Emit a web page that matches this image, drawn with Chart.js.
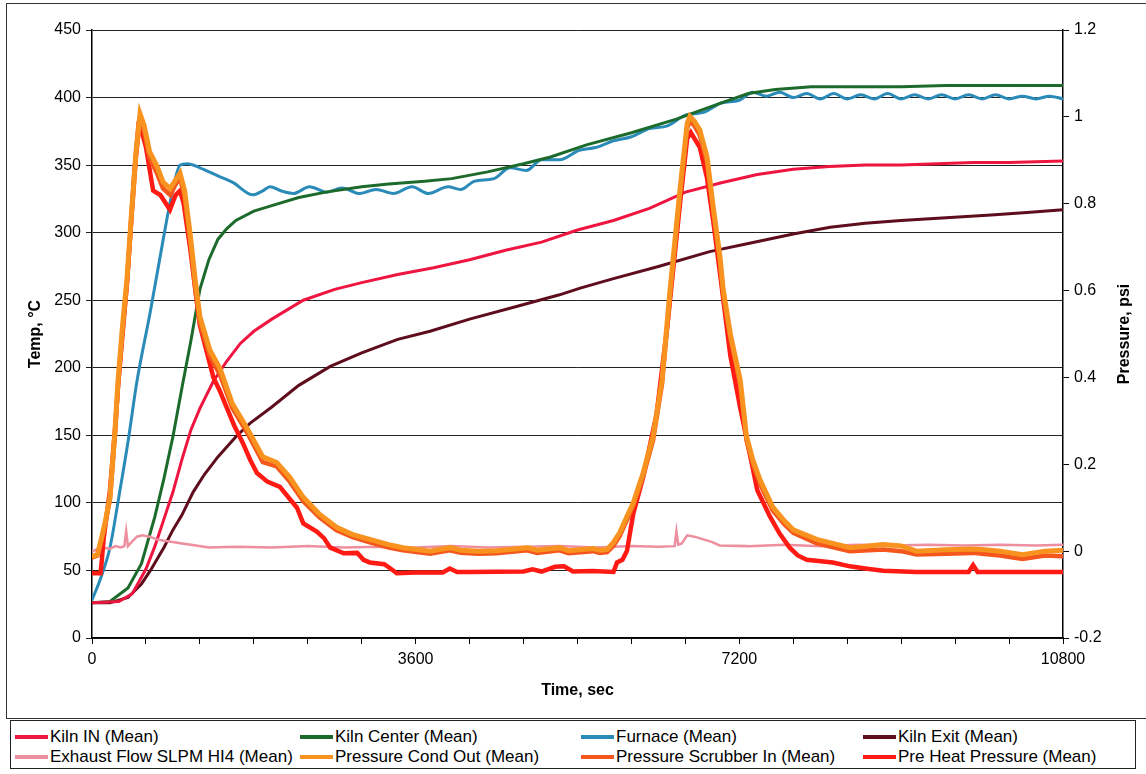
<!DOCTYPE html>
<html>
<head>
<meta charset="utf-8">
<title>Kiln run - temperatures and pressures</title>
<script src="https://cdn.jsdelivr.net/npm/chart.js@4.4.1/dist/chart.umd.min.js"></script>
<style>
  body { margin: 0; background: #fff; font-family: "Liberation Sans", Arial, sans-serif; }
  #wrap { position: relative; width: 1146px; height: 774px; overflow: hidden; }
  #frame { position: absolute; left: 6px; top: 3px; width: 1145px; height: 714px; border: 1px solid #333; }
  #chartBox { position: absolute; left: 0; top: 0; width: 1146px; height: 716px; }
  #legend {
    position: absolute; left: 10px; top: 720px; width: 1126px; height: 49px;
    border: 1px solid #222; box-sizing: border-box;
    display: grid; grid-template-columns: 285px 281px 282px 270px; grid-auto-rows: 20px;
    padding: 6px 0 0 4px; font-size: 17px; color: #000;
  }
  .item { display: flex; align-items: center; white-space: nowrap; }
  .swatch { display: inline-block; width: 33px; height: 4px; margin-right: 2px; }
</style>
</head>
<body>
<div id="wrap">
  <div id="frame"></div>
  <div id="chartBox"><canvas id="kilnChart"></canvas></div>
  <div id="legend"></div>
</div>
<script>
// ===== data (time in seconds) =====

const kilnInT = [0, 300, 450, 600, 700, 800, 900, 1000, 1100, 1200, 1350, 1500, 1650, 1800, 2000, 2350, 2700, 3000, 3400, 3800, 4200, 4600, 5000, 5400, 5800, 6200, 6600, 7000, 7400, 7800, 8200, 8600, 9000, 9400, 9800, 10200, 10800];
const kilnInV = [26, 27, 33, 51, 68, 88, 108, 132, 154, 170, 190, 205, 218, 227, 236, 250, 258, 263, 269, 274, 280, 287, 293, 302, 309, 318, 330, 337, 343, 347, 349, 350, 350, 351, 352, 352, 353];

const kilnCenterT = [0, 200, 400, 550, 700, 800, 900, 1000, 1100, 1200, 1300, 1400, 1500, 1600, 1800, 2000, 2300, 2600, 3000, 3300, 3700, 4000, 4400, 4800, 5100, 5500, 6000, 6500, 7000, 7300, 7600, 8000, 8500, 9000, 9500, 10000, 10800];
const kilnCenterV = [26, 27, 37, 55, 90, 118, 149, 185, 220, 258, 280, 295, 303, 309, 316, 320, 326, 330, 334, 336, 338, 340, 345, 351, 356, 365, 374, 384, 396, 403, 406, 408, 408, 408, 409, 409, 409];

const furnaceT = [0, 100, 200, 300, 400, 500, 650, 800, 880, 980, 1060, 1200, 1400, 1570, 1790, 1900, 1980, 2100, 2240, 2420, 2610, 2780, 2980, 3160, 3350, 3560, 3740, 3960, 4100, 4250, 4470, 4650, 4830, 5000, 5200, 5420, 5600, 5800, 6000, 6200, 6400, 6600, 6800, 7000, 7200, 7350, 7500, 7650, 7800, 7950, 8100, 8250, 8400, 8550, 8700, 8850, 9000, 9150, 9300, 9450, 9600, 9750, 9900, 10050, 10200, 10350, 10500, 10650, 10800];
const furnaceV = [28, 45, 67, 105, 145, 190, 242, 298, 326, 350, 351, 348, 342, 337, 328, 331, 334, 331, 329, 334, 330, 333, 329, 332, 329, 334, 329, 334, 332, 338, 340, 348, 346, 354, 354, 361, 363, 368, 371, 377, 379, 387, 389, 396, 398, 404, 401, 404, 400, 403, 399, 403, 399, 402, 399, 403, 399, 402, 399, 402, 399, 402, 399, 402, 399, 401, 399, 401, 399];

const kilnExitT = [0, 200, 400, 550, 650, 800, 900, 1000, 1125, 1250, 1400, 1600, 1760, 2000, 2300, 2650, 3000, 3400, 3760, 4200, 4700, 5200, 5430, 5800, 6300, 6870, 7300, 7800, 8210, 8600, 9000, 9500, 10000, 10400, 10800];
const kilnExitV = [26, 26, 30, 40, 50, 67, 80, 91, 108, 121, 134, 149, 159, 171, 187, 201, 211, 221, 227, 236, 245, 254, 259, 266, 275, 286, 292, 299, 304, 307, 309, 311, 313, 315, 317];

const flowT = [0, 60, 120, 200, 260, 320, 360, 380, 400, 440, 500, 560, 640, 720, 800, 900, 1000, 1100, 1300, 1600, 2000, 2400, 2800, 3200, 3600, 4000, 4400, 4800, 5200, 5600, 6000, 6300, 6480, 6500, 6520, 6560, 6620, 6700, 6800, 6900, 6980, 7300, 7700, 8100, 8500, 8900, 9300, 9700, 10100, 10500, 10800];
const flowV = [64, 66, 67, 66, 68, 67, 68, 79, 68, 71, 75, 76, 75, 73, 72, 71, 70, 69, 67, 67.5, 67, 68, 67, 67.5, 67, 68, 67, 67.5, 68, 67, 68, 67.5, 68, 79, 69, 70, 76, 75, 73, 71, 68.5, 68, 69, 68, 69, 68.5, 69, 68.5, 69, 68.5, 69];

// cond out and scrubber in share one time base
const pressT = [0, 60, 100, 150, 200, 256, 290, 340, 390, 440, 490, 534, 580, 640, 723, 790, 870, 930, 979, 1030, 1090, 1150, 1200, 1310, 1425, 1560, 1720, 1900, 2055, 2200, 2350, 2530, 2720, 2900, 3090, 3300, 3460, 3760, 3980, 4100, 4300, 4500, 4840, 4950, 5200, 5300, 5570, 5650, 5730, 5800, 5870, 5950, 6020, 6130, 6240, 6340, 6430, 6540, 6620, 6650, 6700, 6760, 6840, 6910, 6985, 7020, 7100, 7210, 7280, 7350, 7430, 7570, 7700, 7800, 8060, 8430, 8800, 9000, 9170, 9500, 9800, 9900, 10100, 10350, 10600, 10800];
const condOutV = [-0.013, -0.008, 0.025, 0.07, 0.124, 0.279, 0.394, 0.52, 0.63, 0.78, 0.92, 1.007, 0.98, 0.92, 0.886, 0.85, 0.835, 0.855, 0.87, 0.83, 0.733, 0.62, 0.54, 0.463, 0.42, 0.34, 0.285, 0.217, 0.204, 0.17, 0.124, 0.085, 0.055, 0.038, 0.027, 0.015, 0.008, 0.0, 0.008, 0.002, 0.0, 0.001, 0.008, 0.002, 0.008, 0.001, 0.006, 0.002, 0.004, 0.02, 0.043, 0.08, 0.111, 0.18, 0.264, 0.394, 0.603, 0.833, 0.985, 1.001, 0.99, 0.97, 0.908, 0.792, 0.677, 0.603, 0.50, 0.394, 0.264, 0.21, 0.164, 0.102, 0.07, 0.049, 0.027, 0.008, 0.015, 0.012, 0.0, 0.003, 0.005, 0.004, 0.0, -0.008, 0.0, 0.002];
const scrubberInV = [-0.015, -0.010, 0.02, 0.065, 0.12, 0.27, 0.385, 0.51, 0.62, 0.77, 0.91, 0.995, 0.965, 0.905, 0.87, 0.835, 0.82, 0.845, 0.86, 0.815, 0.715, 0.60, 0.525, 0.45, 0.405, 0.33, 0.275, 0.205, 0.195, 0.16, 0.115, 0.078, 0.048, 0.032, 0.02, 0.008, 0.002, -0.006, 0.002, -0.004, -0.006, -0.005, 0.002, -0.004, 0.002, -0.005, 0.0, -0.004, -0.002, 0.012, 0.035, 0.072, 0.104, 0.172, 0.255, 0.385, 0.59, 0.82, 0.975, 0.99, 0.98, 0.958, 0.895, 0.78, 0.665, 0.59, 0.49, 0.383, 0.255, 0.2, 0.155, 0.094, 0.062, 0.042, 0.018, 0.0, 0.004, 0.0, -0.008, -0.006, -0.004, -0.006, -0.01, -0.018, -0.01, -0.012];

const preHeatT = [0, 95, 110, 130, 200, 256, 290, 390, 470, 515, 556, 600, 680, 760, 867, 930, 979, 1020, 1090, 1200, 1350, 1420, 1500, 1580, 1680, 1760, 1835, 1950, 2090, 2200, 2280, 2350, 2500, 2580, 2650, 2800, 2950, 3020, 3090, 3250, 3320, 3390, 3600, 3900, 3980, 4060, 4200, 4800, 4900, 5000, 5150, 5250, 5350, 5570, 5800, 5840, 5900, 5950, 6020, 6130, 6280, 6400, 6540, 6620, 6660, 6760, 6840, 6910, 6985, 7100, 7210, 7300, 7400, 7540, 7650, 7760, 7850, 7950, 8240, 8430, 8600, 8800, 9170, 9750, 9800, 9850, 10800];
const preHeatV = [-0.051, -0.051, -0.02, 0.03, 0.14, 0.28, 0.38, 0.62, 0.87, 0.976, 0.964, 0.93, 0.83, 0.82, 0.786, 0.82, 0.83, 0.80, 0.70, 0.52, 0.40, 0.37, 0.33, 0.29, 0.248, 0.21, 0.18, 0.16, 0.148, 0.12, 0.10, 0.064, 0.045, 0.03, 0.008, -0.005, -0.004, -0.02, -0.026, -0.03, -0.04, -0.051, -0.049, -0.049, -0.040, -0.048, -0.048, -0.047, -0.042, -0.047, -0.036, -0.035, -0.047, -0.046, -0.048, -0.026, -0.02, 0.0, 0.086, 0.17, 0.316, 0.52, 0.80, 0.95, 0.964, 0.93, 0.86, 0.76, 0.64, 0.45, 0.33, 0.24, 0.14, 0.08, 0.04, 0.008, -0.01, -0.02, -0.026, -0.035, -0.04, -0.045, -0.048, -0.048, -0.032, -0.048, -0.048];

const xLabelEvery = 3600;

// ===== helpers =====

function pts(times, values) {
  return times.map((t, i) => ({ x: t, y: values[i] }));
}

function series(label, times, values, color, axis, width, order, smooth) {
  return {
    label,
    data: pts(times, values),
    borderColor: color,
    backgroundColor: color,
    borderWidth: width,
    pointRadius: 0,
    cubicInterpolationMode: smooth ? 'monotone' : 'default',
    tension: 0,
    yAxisID: axis,
    order,
  };
}

// right-hand title reads bottom to top like the left one
const pressureTitle = {
  id: 'pressureTitle',
  afterDraw(chart) {
    const { ctx, chartArea } = chart;
    ctx.save();
    ctx.translate(1125, (chartArea.top + chartArea.bottom) / 2);
    ctx.rotate(-Math.PI / 2);
    ctx.font = 'bold 16px "Liberation Sans", Arial, sans-serif';
    ctx.fillStyle = '#000';
    ctx.textAlign = 'center';
    ctx.textBaseline = 'middle';
    ctx.fillText('Pressure, psi', 0, 0);
    ctx.restore();
  },
};

const tickFont = { family: '"Liberation Sans", Arial, sans-serif', size: 16 };
const titleFont = { family: '"Liberation Sans", Arial, sans-serif', size: 16, weight: 'bold' };

const datasets = [
  series('Kiln IN (Mean)', kilnInT, kilnInV, '#ee1540', 'y', 3, 2),
  series('Kiln Center (Mean)', kilnCenterT, kilnCenterV, '#1d6b2c', 'y', 3, 2),
  series('Furnace (Mean)', furnaceT, furnaceV, '#2a8bb8', 'y', 3, 2, true),
  series('Kiln Exit (Mean)', kilnExitT, kilnExitV, '#5e0d1d', 'y', 3, 2),
  series('Exhaust Flow SLPM HI4 (Mean)', flowT, flowV, '#ee8fa0', 'y', 2.5, 1),
  series('Pressure Cond Out (Mean)', pressT, condOutV, '#f7931e', 'y1', 5, 0),
  series('Pressure Scrubber In (Mean)', pressT, scrubberInV, '#f4561c', 'y1', 4.5, 0),
  series('Pre Heat Pressure (Mean)', preHeatT, preHeatV, '#ff1a14', 'y1', 4.5, 0),
];

const chart = new Chart(document.getElementById('kilnChart'), {
  type: 'line',
  data: { datasets },
  options: {
    responsive: true,
    maintainAspectRatio: false,
    animation: false,
    layout: { padding: { top: 30, left: 0, right: 0, bottom: 0 } },
    plugins: { legend: { display: false }, tooltip: { enabled: false } },
    scales: {
      x: {
        type: 'linear',
        min: 0,
        max: 10800,
        afterFit: (s) => { s.height = 78; },
        ticks: {
          stepSize: 600,
          autoSkip: false,
          maxRotation: 0,
          padding: 6,
          color: '#000',
          font: tickFont,
          callback: (v) => (v % xLabelEvery === 0 ? String(v) : ''),
        },
        grid: { drawOnChartArea: false, color: '#000', tickLength: 6 },
        border: { display: true, color: '#000', width: 1.5 },
        title: { display: true, text: 'Time, sec', color: '#000', font: titleFont, padding: { top: 0, bottom: 16 } },
      },
      y: {
        position: 'left',
        min: 0,
        max: 450,
        afterFit: (s) => { s.width = 92; },
        ticks: { stepSize: 50, color: '#000', font: tickFont, padding: 5 },
        grid: { color: '#222', lineWidth: 1, tickLength: 6 },
        border: { display: true, color: '#000', width: 1.5 },
        title: { display: true, text: 'Temp, °C', color: '#000', font: titleFont, padding: { top: 26, bottom: 0 } },
      },
      y1: {
        position: 'right',
        min: -0.2,
        max: 1.2,
        afterFit: (s) => { s.width = 83; },
        ticks: {
          stepSize: 0.2,
          color: '#000',
          font: tickFont,
          padding: 5,
          callback: (v) => String(parseFloat(v.toFixed(1))),
        },
        grid: { drawOnChartArea: false, color: '#000', tickLength: 6 },
        border: { display: true, color: '#000', width: 1.5 },
      },
    },
  },
  plugins: [pressureTitle],
});

// ===== legend (4 columns, 2 rows) =====

const legendEl = document.getElementById('legend');
chart.data.datasets.forEach((ds) => {
  const item = document.createElement('div');
  item.className = 'item';
  const sw = document.createElement('span');
  sw.className = 'swatch';
  sw.style.background = ds.borderColor;
  const txt = document.createElement('span');
  txt.textContent = ds.label;
  item.appendChild(sw);
  item.appendChild(txt);
  legendEl.appendChild(item);
});
</script>
</body>
</html>
